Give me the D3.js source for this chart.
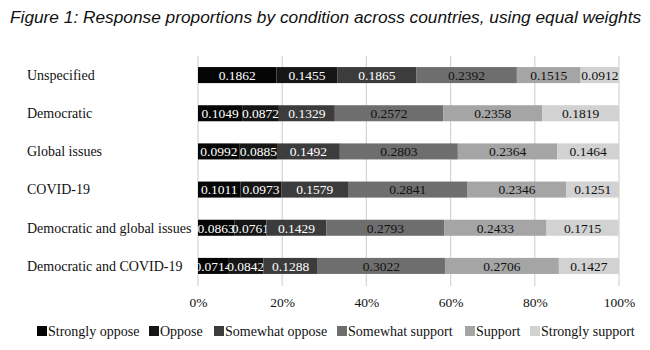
<!DOCTYPE html>
<html><head><meta charset="utf-8">
<script src="https://cdn.jsdelivr.net/npm/d3@7"></script>
<style>body{margin:0;background:#fff}svg{display:block}</style>
</head><body>
<script>
const categories = ["Unspecified","Democratic","Global issues","COVID-19","Democratic and global issues","Democratic and COVID-19"];
const seriesNames = ["Strongly oppose","Oppose","Somewhat oppose","Somewhat support","Support","Strongly support"];
const stronglyOppose = [0.1862,0.1049,0.0992,0.1011,0.0863,0.0714];
const oppose = [0.1455,0.0872,0.0885,0.0973,0.0761,0.0842];
const somewhatOppose = [0.1865,0.1329,0.1492,0.1579,0.1429,0.1288];
const somewhatSupport = [0.2392,0.2572,0.2803,0.2841,0.2793,0.3022];
const support = [0.1515,0.2358,0.2364,0.2346,0.2433,0.2706];
const stronglySupport = [0.0912,0.1819,0.1464,0.1251,0.1715,0.1427];
const tickValues = [0,0.2,0.4,0.6,0.8,1.0];
const colors = ["#050505","#161616","#3c3c3c","#6e6e6e","#a5a5a5","#d2d2d2"];
const textColors = ["#fff","#fff","#fff","#111","#111","#111"];

const W=650,H=350;
const svg=d3.select("body").append("svg").attr("width",W).attr("height",H);
const serif="'Liberation Serif','Times New Roman',serif";

svg.append("text").attr("x",10).attr("y",23).attr("font-family","'Liberation Sans',Arial,sans-serif")
  .attr("font-style","italic").attr("font-size",17.3).attr("fill","#111")
  .text("Figure 1: Response proportions by condition across countries, using equal weights");

const x=d3.scaleLinear().domain([0,1]).range([198,619]);
const y=d3.scaleBand().domain(categories).range([56,285]).paddingInner(0.58).paddingOuter(0.29);

const table=categories.map((c,i)=>{
  const row={category:c};
  const vals=[stronglyOppose[i],oppose[i],somewhatOppose[i],somewhatSupport[i],support[i],stronglySupport[i]];
  seriesNames.forEach((s,j)=>row[s]=vals[j]);
  return row;
});
const stacked=d3.stack().keys(seriesNames)(table);

// gridlines
svg.append("g").selectAll("line").data(tickValues).join("line")
  .attr("x1",d=>x(d)).attr("x2",d=>x(d)).attr("y1",56).attr("y2",286)
  .attr("stroke","#d4d4d4").attr("stroke-width",1.2);

const g=svg.append("g");
stacked.forEach((layer,j)=>{
  const lg=g.append("g");
  lg.selectAll("rect").data(layer).join("rect")
    .attr("x",d=>x(d[0])).attr("width",d=>x(d[1])-x(d[0]))
    .attr("y",d=>y(d.data.category)).attr("height",y.bandwidth())
    .attr("fill",colors[j]);
  lg.selectAll("text").data(layer).join("text")
    .attr("x",d=>(x(d[0])+x(d[1]))/2).attr("y",d=>y(d.data.category)+y.bandwidth()/2+4.8)
    .attr("text-anchor","middle").attr("font-family",serif).attr("font-size",13.5)
    .attr("fill",textColors[j]).text(d=>d.data[layer.key].toFixed(4));
});

// category labels
svg.append("g").selectAll("text").data(categories).join("text")
  .attr("x",27).attr("y",d=>y(d)+y.bandwidth()/2+4.8)
  .attr("font-family",serif).attr("font-size",14).attr("fill","#111").text(d=>d);

// x axis
const axis=d3.axisBottom(x).tickValues(tickValues).tickFormat(d3.format(".0%")).tickSize(0).tickPadding(0);
const ax=svg.append("g").attr("transform","translate(0,307)").call(axis);
ax.select(".domain").remove();
ax.selectAll("text").attr("font-family",serif).attr("font-size",13.5).attr("fill","#111").attr("dy",0);

// legend
const legendX=[37,149,214,337,465,530];
const lgd=svg.append("g").selectAll("g").data(seriesNames).join("g")
  .attr("transform",(d,i)=>`translate(${legendX[i]},331)`);
lgd.append("rect").attr("x",0).attr("y",-5).attr("width",10).attr("height",10).attr("fill",(d,i)=>colors[i]);
lgd.append("text").attr("x",11).attr("y",5).attr("font-family",serif).attr("font-size",14).attr("fill","#111").text(d=>d);
</script>
</body></html>
